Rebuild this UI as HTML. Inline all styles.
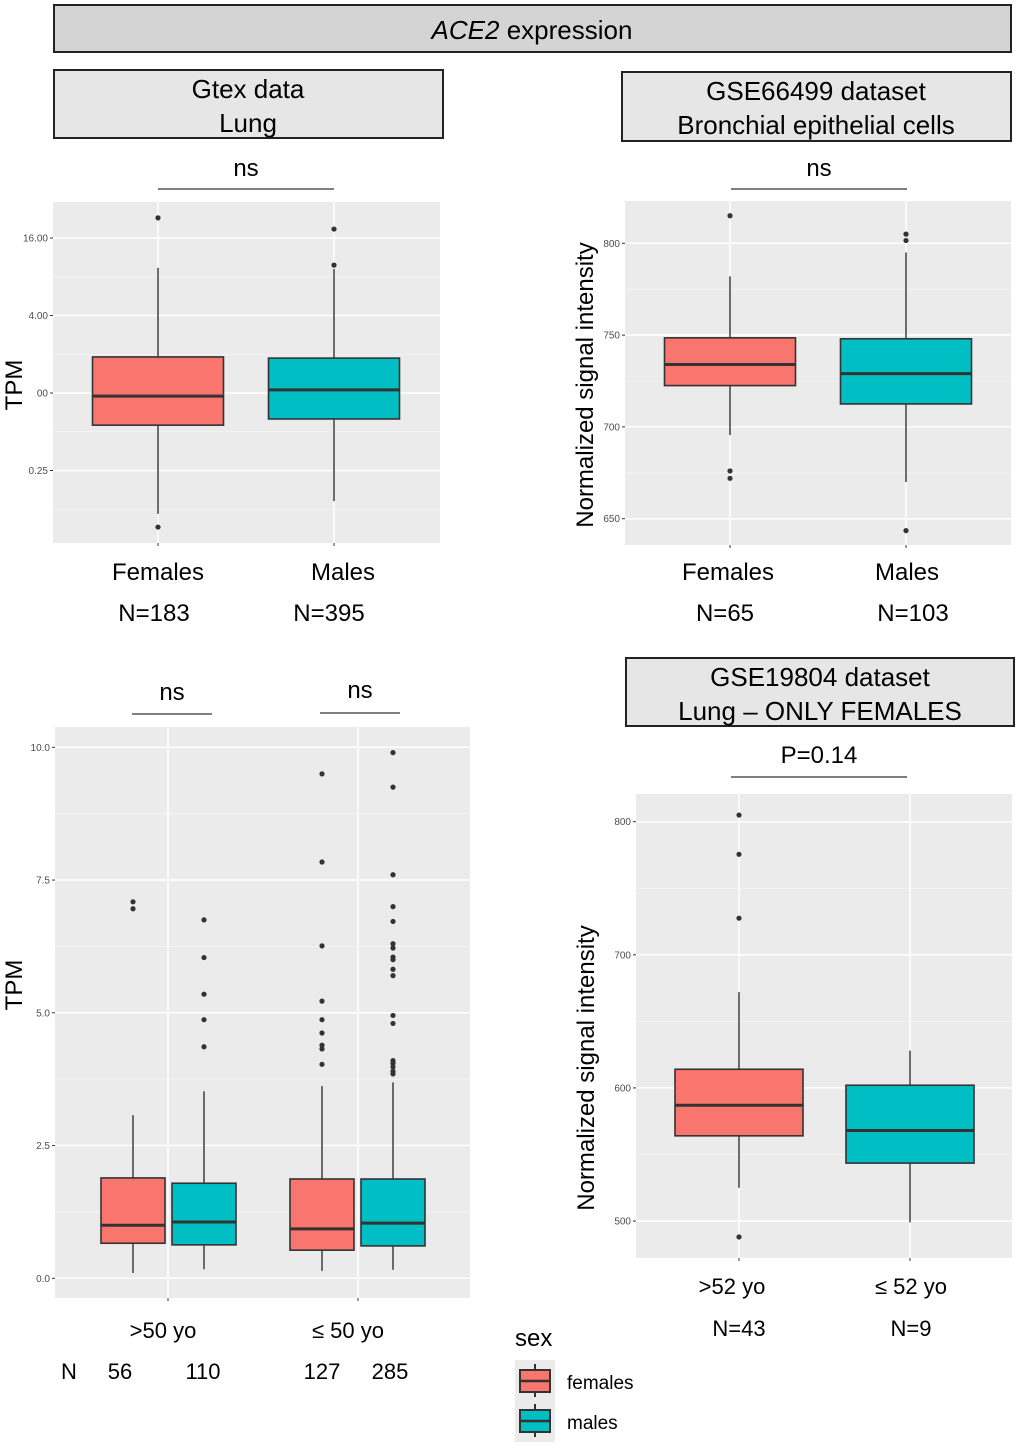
<!DOCTYPE html>
<html><head><meta charset="utf-8"><style>
html,body{margin:0;padding:0;background:#fff}
svg{display:block;font-family:"Liberation Sans",Arial,sans-serif}
</style></head><body>
<svg id="fig" width="1020" height="1446" viewBox="0 0 1020 1446" xmlns="http://www.w3.org/2000/svg">
<g>
<rect x="54" y="5" width="957" height="47" fill="#d4d4d4" stroke="#222" stroke-width="2"/>
<text x="532" y="39" font-size="26" text-anchor="middle"><tspan font-style="italic">ACE2</tspan> expression</text>
</g>
<g>
<rect x="54" y="70" width="389" height="68" fill="#e6e6e6" stroke="#222" stroke-width="2"/>
<text x="248" y="98" font-size="26" text-anchor="middle">Gtex data</text>
<text x="248" y="132" font-size="26" text-anchor="middle">Lung</text>
</g>
<g>
<rect x="622" y="72" width="389" height="69" fill="#e6e6e6" stroke="#222" stroke-width="2"/>
<text x="816" y="100" font-size="26" text-anchor="middle">GSE66499 dataset</text>
<text x="816" y="134" font-size="26" text-anchor="middle">Bronchial epithelial cells</text>
</g>
<g>
<rect x="626" y="658" width="388" height="68" fill="#e6e6e6" stroke="#222" stroke-width="2"/>
<text x="820" y="686" font-size="26" text-anchor="middle">GSE19804 dataset</text>
<text x="820" y="720" font-size="26" text-anchor="middle">Lung – ONLY FEMALES</text>
</g>
<g id="panels"></g>
<g>
<text x="515" y="1346" font-size="24">sex</text>
<rect x="515" y="1360" width="40" height="82" fill="#ebebeb"/>
<g>
<line x1="535" y1="1364" x2="535" y2="1397" stroke="#333" stroke-width="2"/>
<rect x="520" y="1370" width="30" height="22" fill="#F8766D" stroke="#333" stroke-width="2"/>
<line x1="520" y1="1381" x2="550" y2="1381" stroke="#333" stroke-width="2.5"/>
<text x="567" y="1389" font-size="19">females</text>
</g>
<g>
<line x1="535" y1="1404" x2="535" y2="1437" stroke="#333" stroke-width="2"/>
<rect x="520" y="1410" width="30" height="22" fill="#00BFC4" stroke="#333" stroke-width="2"/>
<line x1="520" y1="1421" x2="550" y2="1421" stroke="#333" stroke-width="2.5"/>
<text x="567" y="1429" font-size="19">males</text>
</g>
</g>
</svg>
<script>
// Panel A: GTEx lung (log2 scale units: 16->4, 4->2, 1->0, 0.25->-2)
const gtexTicks = [4, 2, 0, -2];
const gtexTickLabels = ["16.00", "4.00", "00", "0.25"];
const gtexCats = ["Females", "Males"];
const gtexStats = [[-3.12, -0.83, -0.08, 0.93, 3.23], [-2.79, -0.67, 0.08, 0.9, 3.2]];
const gtexOutliers = [[4.52, -3.46], [4.23, 3.3]];
// Panel B: GSE66499
const gseBTicks = [800, 750, 700, 650];
const gseBTickLabels = ["800", "750", "700", "650"];
const gseBCats = ["Females", "Males"];
const gseBStats = [[695.5, 722.5, 734, 748.5, 782], [670, 712.5, 729, 748, 795]];
const gseBOutliers = [[815, 676, 672], [805, 801.5, 643.5]];
// Panel C: GTEx by age
const ageTicks = [10, 7.5, 5, 2.5, 0];
const ageTickLabels = ["10.0", "7.5", "5.0", "2.5", "0.0"];
const ageCats = [">50 yo", "≤ 50 yo"];
const ageStats = [[0.1, 0.66, 1.0, 1.89, 3.07], [0.17, 0.63, 1.06, 1.79, 3.52], [0.14, 0.53, 0.93, 1.87, 3.62], [0.16, 0.61, 1.04, 1.87, 3.69]];
const ageOutliers = [[7.09, 6.96], [6.75, 6.04, 5.35, 4.87, 4.36], [9.5, 7.84, 6.26, 5.22, 4.87, 4.62, 4.39, 4.32, 4.03], [9.9, 9.25, 7.6, 7.0, 6.72, 6.3, 6.22, 6.05, 6.0, 5.82, 5.7, 4.95, 4.8, 4.1, 4.05, 3.98, 3.9, 3.85]];
// Panel D: GSE19804
const gseDTicks = [800, 700, 600, 500];
const gseDTickLabels = ["800", "700", "600", "500"];
const gseDCats = [">52 yo", "≤ 52 yo"];
const gseDStats = [[525, 564, 587, 614, 672], [499, 543.5, 568, 602, 628]];
const gseDOutliers = [[805, 775.5, 727.5, 488], []];

const NS = "http://www.w3.org/2000/svg";
const root = document.getElementById('panels');
function mk(tag, attrs, parent, txt) {
  const e = document.createElementNS(NS, tag);
  for (const k in attrs) e.setAttribute(k, attrs[k]);
  if (txt !== undefined) e.textContent = txt;
  (parent || root).appendChild(e);
  return e;
}
const COLS = ["#F8766D", "#00BFC4"];
function panel(cfg) {
  const g = mk('g', {});
  
  
  const y = v => cfg.y0 + (v - cfg.v0) * (cfg.y1 - cfg.y0) / (cfg.v1 - cfg.v0);
  const bg = mk('rect', {x: cfg.L, y: cfg.T, width: cfg.R - cfg.L, height: cfg.B - cfg.T, fill: '#ebebeb'}, g);
  
  
  // minor gridlines
  for (let i = 0; i < cfg.ticks.length - 1; i++) {
    const m = (cfg.ticks[i] + cfg.ticks[i + 1]) / 2;
    mk('line', {x1: cfg.L, x2: cfg.R, y1: y(m), y2: y(m), stroke: '#f6f6f6', 'stroke-width': 0.8}, g);
  }
  const step = cfg.ticks[1] - cfg.ticks[0];
  [cfg.ticks[0] - step / 2, cfg.ticks[cfg.ticks.length - 1] + step / 2].forEach(m => {
    if (y(m) > cfg.T && y(m) < cfg.B) mk('line', {x1: cfg.L, x2: cfg.R, y1: y(m), y2: y(m), stroke: '#f6f6f6', 'stroke-width': 0.8}, g);
  });
  cfg.ticks.forEach((t, i) => {
    mk('line', {x1: cfg.L, x2: cfg.R, y1: y(t), y2: y(t), stroke: '#fff', 'stroke-width': 1.5}, g);
    mk('line', {x1: cfg.L - 3, x2: cfg.L, y1: y(t), y2: y(t), stroke: '#333', 'stroke-width': 1}, g);
    const tl = mk('text', {x: cfg.L - 5, y: y(t) + 3.5, 'font-size': 10, 'text-anchor': 'end', fill: '#4d4d4d'}, g, cfg.tickLabels[i]);
    
    
  });
  cfg.gridX.forEach(x => {
    mk('line', {x1: x, x2: x, y1: cfg.T, y2: cfg.B, stroke: '#fff', 'stroke-width': 1.5}, g);
    mk('line', {x1: x, x2: x, y1: cfg.B, y2: cfg.B + 3, stroke: '#333', 'stroke-width': 1}, g);
  });
  cfg.stats.forEach((s, i) => {
    const cx = cfg.centers[i], hw = cfg.bw / 2;
    const bx = mk('g', {}, g);
    
    
    mk('line', {x1: cx, x2: cx, y1: y(s[0]), y2: y(s[4]), stroke: '#333', 'stroke-width': 1.4}, bx);
    mk('rect', {x: cx - hw, y: y(s[3]), width: cfg.bw, height: y(s[1]) - y(s[3]), fill: COLS[i % 2], stroke: '#333', 'stroke-width': 1.6}, bx);
    mk('line', {x1: cx - hw, x2: cx + hw, y1: y(s[2]), y2: y(s[2]), stroke: '#333', 'stroke-width': 3}, bx);
    cfg.outliers[i].forEach(o => {
      const c = mk('circle', {cx: cx, cy: y(o), r: 2.6, fill: '#333'}, bx);
      
      
    });
  });
}
panel({name: 'gtex-lung-panel', L: 53, R: 440, T: 202, B: 543, v0: 0, y0: 393, v1: 2, y1: 315.5,
  ticks: gtexTicks, tickLabels: gtexTickLabels, stats: gtexStats, outliers: gtexOutliers,
  centers: [158, 334], gridX: [158, 334], bw: 131, boxNames: ['females', 'males']});
panel({name: 'gse66499-panel', L: 625, R: 1011, T: 201, B: 545, v0: 800, y0: 243.3, v1: 650, y1: 518.7,
  ticks: gseBTicks, tickLabels: gseBTickLabels, stats: gseBStats, outliers: gseBOutliers,
  centers: [730, 906], gridX: [730, 906], bw: 131, boxNames: ['females', 'males']});
panel({name: 'gtex-age-panel', L: 55, R: 470, T: 727, B: 1298, v0: 10, y0: 747.3, v1: 0, y1: 1278.3,
  ticks: ageTicks, tickLabels: ageTickLabels, stats: ageStats, outliers: ageOutliers,
  centers: [133, 204, 322, 393], gridX: [168, 358], bw: 64, boxNames: ['females-over50', 'males-over50', 'females-under50', 'males-under50']});
panel({name: 'gse19804-panel', L: 636, R: 1012, T: 794, B: 1258, v0: 800, y0: 821.7, v1: 500, y1: 1221,
  ticks: gseDTicks, tickLabels: gseDTickLabels, stats: gseDStats, outliers: gseDOutliers,
  centers: [739, 910], gridX: [739, 910], bw: 128, boxNames: ['over52', 'under52']});

function txt(x, y, s, size, name, extra) {
  const t = mk('text', Object.assign({x: x, y: y, 'font-size': size, 'text-anchor': 'middle'}, extra || {}), root, s);
  
  
  return t;
}
function sig(x1, x2, y, label, ly) {
  const l = mk('line', {x1: x1, x2: x2, y1: y, y2: y, stroke: '#333', 'stroke-width': 1.3});
  
  
  txt((x1 + x2) / 2, ly, label, 24, 'significance-label');
}
sig(158, 334, 189, 'ns', 176);
sig(731, 907, 189, 'ns', 176);
sig(132, 212, 714, 'ns', 700);
sig(320, 400, 713, 'ns', 698);
sig(731, 907, 777, 'P=0.14', 763);
// category labels
gtexCats.forEach((c, i) => txt([158, 343][i], 580, c, 24, 'x-category-label'));
gseBCats.forEach((c, i) => txt([728, 907][i], 580, c, 24, 'x-category-label'));
ageCats.forEach((c, i) => txt([163, 348][i], 1338, c, 22, 'x-category-label'));
gseDCats.forEach((c, i) => txt([732, 911][i], 1294, c, 22, 'x-category-label'));
txt(154, 621, 'N=183', 24, 'n-label');
txt(329, 621, 'N=395', 24, 'n-label');
txt(725, 621, 'N=65', 24, 'n-label');
txt(913, 621, 'N=103', 24, 'n-label');
txt(739, 1336, 'N=43', 22, 'n-label');
txt(911, 1336, 'N=9', 22, 'n-label');
txt(69, 1379, 'N', 22, 'n-label');
txt(120, 1379, '56', 22, 'n-label');
txt(203, 1379, '110', 22, 'n-label');
txt(322, 1379, '127', 22, 'n-label');
txt(390, 1379, '285', 22, 'n-label');
// y axis titles
txt(0, 0, 'TPM', 24, 'y-axis-title', {transform: 'translate(22,385) rotate(-90)'});
txt(0, 0, 'TPM', 24, 'y-axis-title', {transform: 'translate(22,985) rotate(-90)'});
txt(0, 0, 'Normalized signal intensity', 24, 'y-axis-title', {transform: 'translate(593,385) rotate(-90)'});
txt(0, 0, 'Normalized signal intensity', 24, 'y-axis-title', {transform: 'translate(594,1068) rotate(-90)'});
</script>
</body></html>
